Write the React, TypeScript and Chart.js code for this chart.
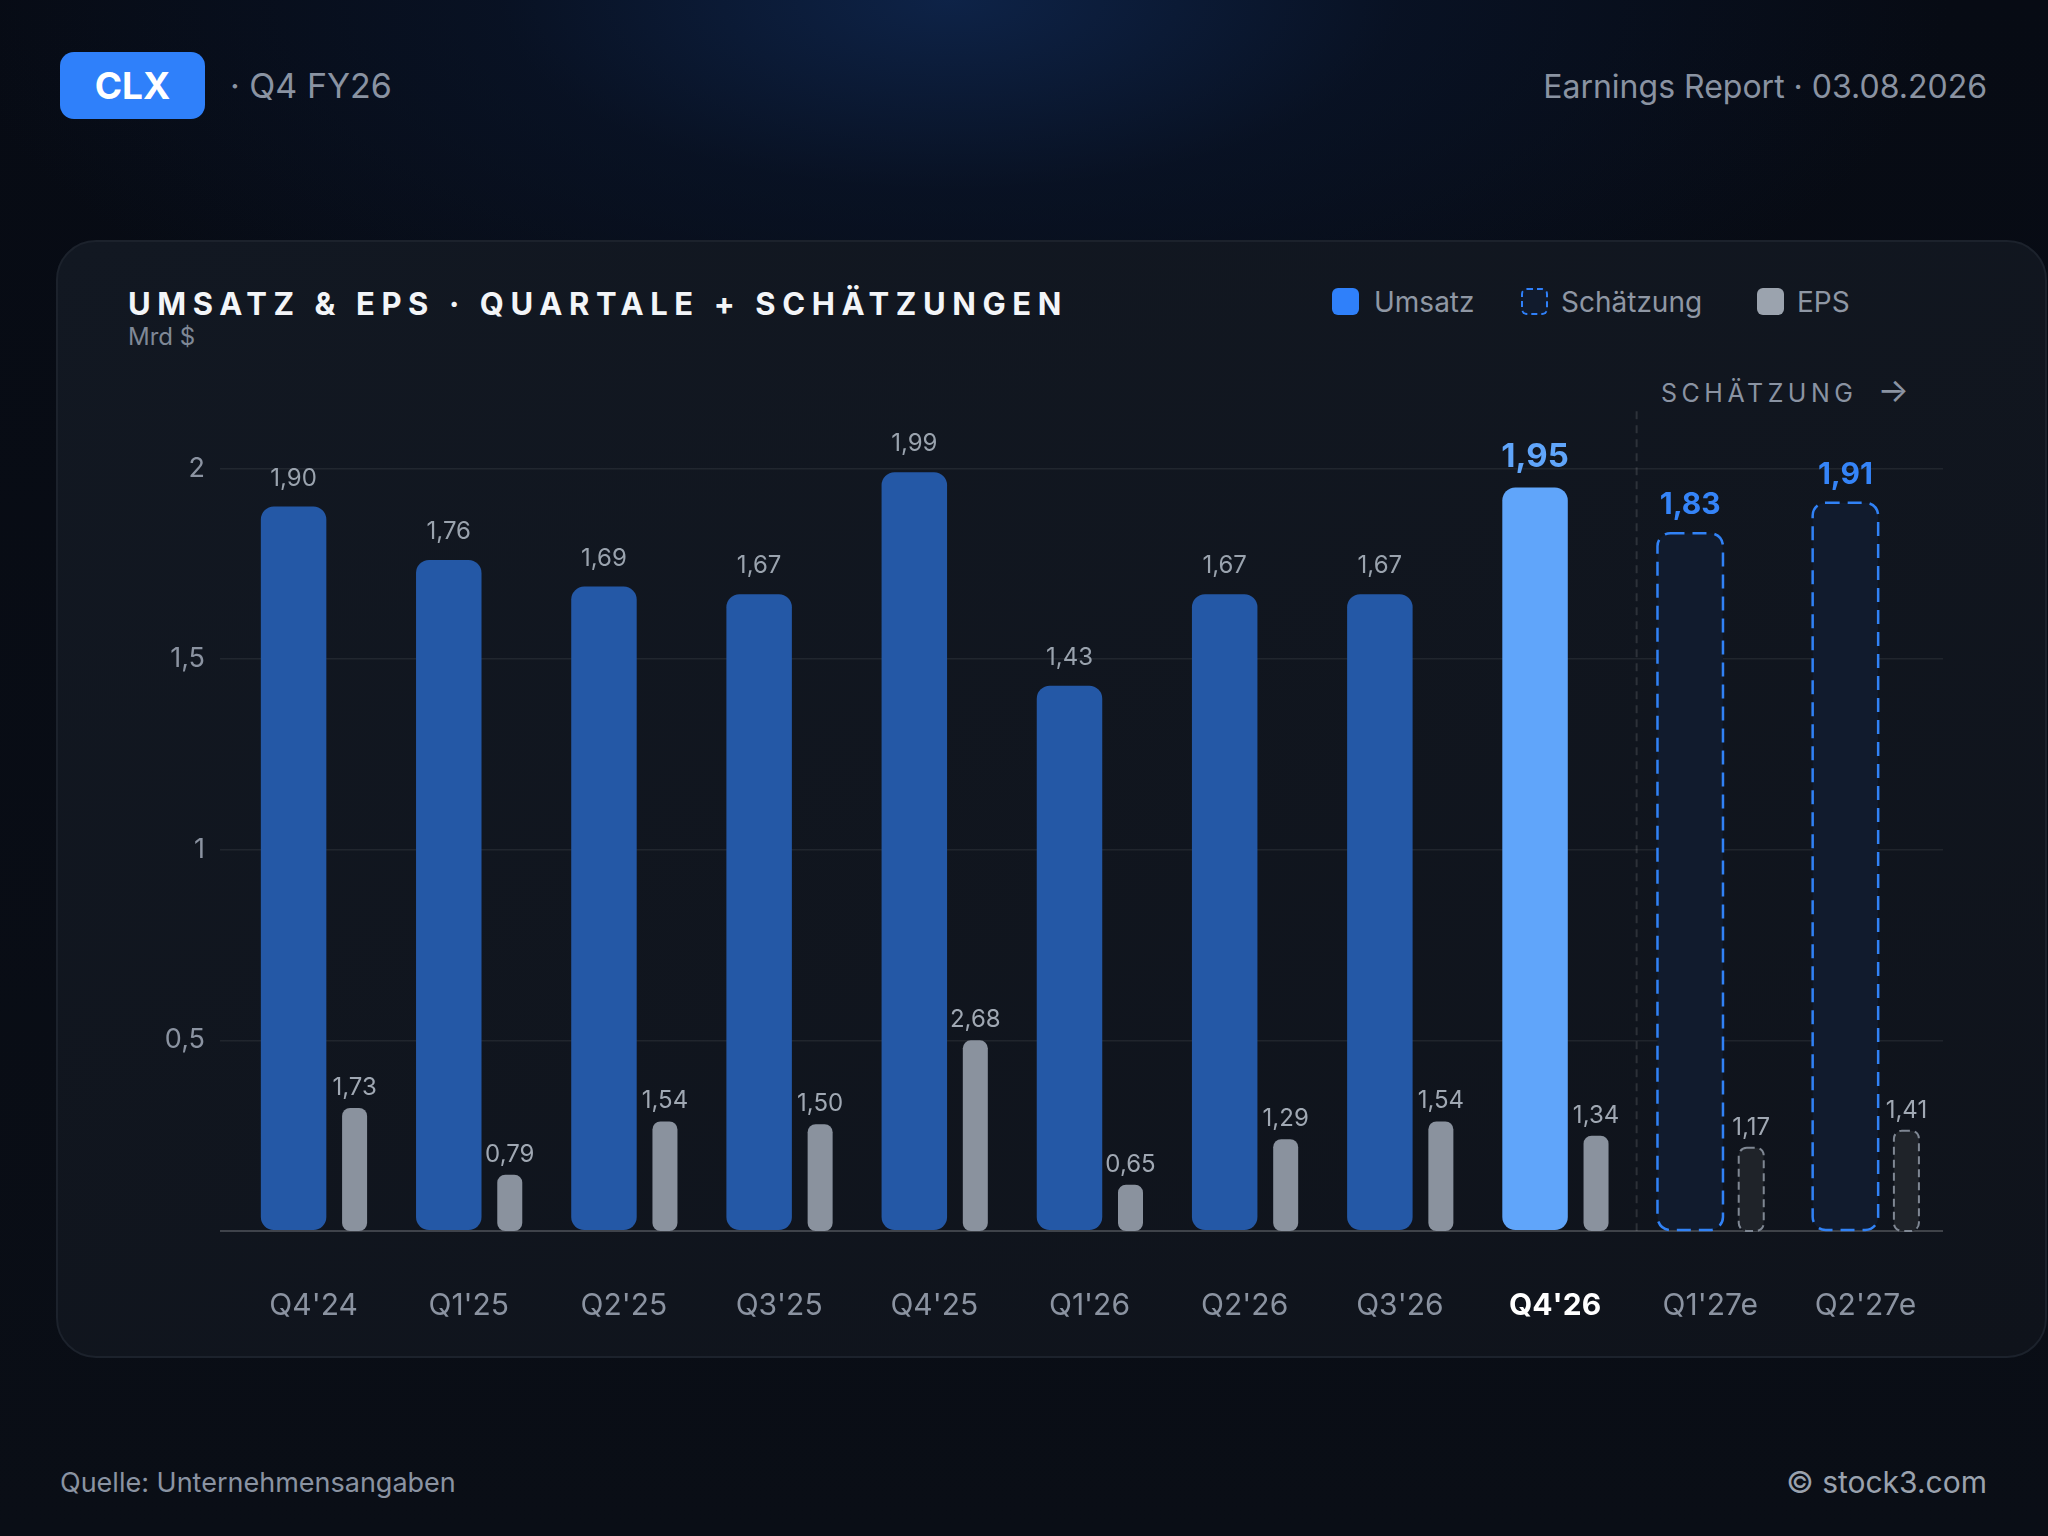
import React, { useEffect, useRef } from "react";
import { Chart, registerables } from "chart.js";

Chart.register(...registerables);

const categories = ["Q4'24", "Q1'25", "Q2'25", "Q3'25", "Q4'25", "Q1'26", "Q2'26", "Q3'26", "Q4'26", "Q1'27e", "Q2'27e"];
const revenue = [1.9, 1.76, 1.69, 1.67, 1.99, 1.43, 1.67, 1.67, 1.95, 1.83, 1.91];
const eps = [1.73, 0.79, 1.54, 1.5, 2.68, 0.65, 1.29, 1.54, 1.34, 1.17, 1.41];
const yTickValues = [0, 0.5, 1, 1.5, 2];
const currentIndex = 8;
const firstEstimateIndex = 9;
const revenueMax = 2.15;
const epsMax = 11.52;

const FONT = "Inter, 'Noto Sans', sans-serif";
const fmt = (v: number) => v.toFixed(2).replace(".", ",");

const overlayPlugin = {
  id: "overlay",
  beforeDatasetsDraw(chart: any) {
    const { ctx, chartArea, scales } = chart;
    const xs = scales.x;
    const sx = (xs.getPixelForValue(currentIndex) + xs.getPixelForValue(firstEstimateIndex)) / 2 + 4;
    ctx.save();
    ctx.strokeStyle = "rgba(255,255,255,0.12)";
    ctx.lineWidth = 2;
    ctx.setLineDash([8, 6]);
    ctx.beginPath();
    ctx.moveTo(sx, chartArea.top);
    ctx.lineTo(sx, chartArea.bottom);
    ctx.stroke();
    ctx.restore();
  },
  afterDatasetsDraw(chart: any) {
    const ctx = chart.ctx;
    const revMeta = chart.getDatasetMeta(0);
    const epsMeta = chart.getDatasetMeta(1);
    revMeta.data.forEach((el: any, i: number) => {
      if (i < firstEstimateIndex) return;
      const { x, y, base, width } = el.getProps(["x", "y", "base", "width"], true);
      ctx.save();
      ctx.setLineDash([14, 8]);
      ctx.lineWidth = 2.5;
      ctx.strokeStyle = "#3182f6";
      ctx.beginPath();
      ctx.roundRect(x - width / 2, y, width, base - y, 13);
      ctx.stroke();
      ctx.restore();
    });
    epsMeta.data.forEach((el: any, i: number) => {
      if (i < firstEstimateIndex) return;
      const { x, y, base, width } = el.getProps(["x", "y", "base", "width"], true);
      ctx.save();
      ctx.setLineDash([8, 5]);
      ctx.lineWidth = 2;
      ctx.strokeStyle = "#7f8793";
      ctx.beginPath();
      ctx.roundRect(x - width / 2, y, width, base - y, 8);
      ctx.stroke();
      ctx.restore();
    });
  },
  afterDraw(chart: any) {
    const ctx = chart.ctx;
    const revMeta = chart.getDatasetMeta(0);
    const epsMeta = chart.getDatasetMeta(1);
    ctx.save();
    ctx.textAlign = "center";
    ctx.textBaseline = "alphabetic";
    revMeta.data.forEach((el: any, i: number) => {
      const { x, y } = el.getProps(["x", "y"], true);
      if (i === currentIndex) {
        ctx.font = `700 33px ${FONT}`;
        ctx.fillStyle = "#60a5fa";
        ctx.fillText(fmt(revenue[i]), x, y - 20);
      } else if (i >= firstEstimateIndex) {
        ctx.font = `700 30px ${FONT}`;
        ctx.fillStyle = "#3584f8";
        ctx.fillText(fmt(revenue[i]), x, y - 19);
      } else {
        ctx.font = `400 24px ${FONT}`;
        ctx.fillStyle = "#9aa3ae";
        ctx.fillText(fmt(revenue[i]), x, y - 21);
      }
    });
    epsMeta.data.forEach((el: any, i: number) => {
      const { x, y } = el.getProps(["x", "y"], true);
      ctx.font = `400 24px ${FONT}`;
      ctx.fillStyle = "#a0a8b3";
      ctx.fillText(fmt(eps[i]), x, y - 13);
    });
    ctx.restore();
  },
};

function ChartCanvas() {
  const ref = useRef<HTMLCanvasElement | null>(null);
  useEffect(() => {
    if (!ref.current) return;
    const chart = new Chart(ref.current, {
      type: "bar",
      data: {
        labels: categories,
        datasets: [
          {
            label: "Umsatz",
            data: revenue,
            yAxisID: "y",
            backgroundColor: revenue.map((_, i) =>
              i >= firstEstimateIndex ? "#111b2d" : i === currentIndex ? "#60a5fa" : "#2458a6"
            ),
            borderWidth: 0,
            borderRadius: 13,
            borderSkipped: false,
            categoryPercentage: 0.5155,
            barPercentage: 1.6375,
          },
          {
            label: "EPS",
            data: eps,
            yAxisID: "y2",
            backgroundColor: eps.map((_, i) => (i >= firstEstimateIndex ? "#1f2329" : "#8a929e")),
            borderWidth: 0,
            borderRadius: 8,
            borderSkipped: false,
            categoryPercentage: 1.0568,
            barPercentage: 0.305,
          },
        ],
      },
      options: {
        responsive: false,
        animation: false,
        maintainAspectRatio: false,
        layout: { padding: { top: 31, right: 57, left: 0, bottom: 0 } },
        plugins: { legend: { display: false }, tooltip: { enabled: false } },
        scales: {
          x: {
            grid: { display: false, drawTicks: false, tickLength: 0 },
            border: { display: false },
            ticks: {
              padding: 57,
              color: (c: any) => (c.index === currentIndex ? "#ffffff" : "#8b93a1"),
              font: (c: any) => ({
                family: FONT,
                size: 30,
                weight: c.index === currentIndex ? "bold" : "normal",
              }),
            },
            afterFit: (s: any) => {
              s.height = 129;
            },
          },
          y: {
            min: 0,
            max: revenueMax,
            z: 1,
            border: { display: false },
            afterBuildTicks: (s: any) => {
              s.ticks = yTickValues.map((v) => ({ value: v }));
            },
            ticks: {
              padding: 15,
              color: "#8b93a1",
              font: { family: FONT, size: 27 },
              callback: (v: any) => (Number(v) === 0 ? "" : String(v).replace(".", ",")),
            },
            grid: {
              color: (c: any) => (c.tick && c.tick.value === 0 ? "rgba(255,255,255,0.2)" : "rgba(255,255,255,0.07)"),
              tickColor: (c: any) => (c.tick && c.tick.value === 0 ? "rgba(255,255,255,0.2)" : "rgba(255,255,255,0.07)"),
              lineWidth: (c: any) => (c.tick && c.tick.value === 0 ? 2 : 1.5),
              tickLength: 16,
            },
            afterFit: (s: any) => {
              s.width = 136;
            },
          },
          y2: {
            display: false,
            min: 0,
            max: epsMax,
          },
        },
      },
      plugins: [overlayPlugin],
    });
    return () => chart.destroy();
  }, []);
  return (
    <canvas
      ref={ref}
      width={1900}
      height={980}
      style={{ position: "absolute", left: 100, top: 380, width: 1900, height: 980 }}
    />
  );
}

function Txt(props: {
  x?: number;
  right?: number;
  cy: number;
  size: number;
  color: string;
  weight?: number;
  ls?: number;
  children: React.ReactNode;
}) {
  const lh = Math.round(props.size * 1.3);
  const style: React.CSSProperties = {
    position: "absolute",
    top: props.cy - lh / 2,
    lineHeight: `${lh}px`,
    fontSize: props.size,
    color: props.color,
    fontWeight: props.weight ?? 400,
    letterSpacing: props.ls ?? 0,
    whiteSpace: "nowrap",
    fontFamily: FONT,
  };
  if (props.right !== undefined) style.right = props.right;
  else style.left = props.x;
  return <div style={style}>{props.children}</div>;
}

export default function App() {
  return (
    <div
      style={{
        position: "absolute",
        left: 0,
        top: 0,
        width: 2048,
        height: 1536,
        overflow: "hidden",
        fontFamily: FONT,
        background:
          "radial-gradient(ellipse 1000px 420px at 950px 0px, rgba(14,36,74,0.95) 0%, rgba(10,24,50,0.5) 45%, rgba(8,12,21,0) 100%), linear-gradient(180deg, #070b14 0%, #0a0e16 100%)",
      }}
    >
      <div
        style={{
          position: "absolute",
          left: 60,
          top: 52,
          width: 145,
          height: 67,
          borderRadius: 14,
          background: "#2f80fa",
          color: "#ffffff",
          fontWeight: 700,
          fontSize: 37,
          lineHeight: "67px",
          textAlign: "center",
        }}
      >
        CLX
      </div>
      <Txt x={230} cy={86} size={34} color="#8a93a2">
        · Q4 FY26
      </Txt>
      <Txt right={61} cy={87} size={32} color="#8a93a2">
        Earnings Report · 03.08.2026
      </Txt>

      <div
        style={{
          position: "absolute",
          left: 56,
          top: 240,
          width: 1991,
          height: 1118,
          boxSizing: "border-box",
          borderRadius: 40,
          border: "2px solid #1c222c",
          background: "linear-gradient(160deg, #121822 0%, #0f131b 100%)",
        }}
      />

      <Txt x={128} cy={304} size={31} color="#f3f5f8" weight={700} ls={6.6}>
        UMSATZ &amp; EPS · QUARTALE + SCHÄTZUNGEN
      </Txt>
      <Txt x={128} cy={336} size={24} color="#7f8896">
        Mrd $
      </Txt>

      <div style={{ position: "absolute", left: 1332, top: 288, width: 27, height: 27, borderRadius: 6, background: "#2f80fa" }} />
      <Txt x={1374} cy={302} size={28} color="#8f97a4">
        Umsatz
      </Txt>
      <div
        style={{
          position: "absolute",
          left: 1521,
          top: 288,
          width: 27,
          height: 27,
          boxSizing: "border-box",
          borderRadius: 6,
          border: "2.5px dashed #2f80fa",
          background: "#111b2d",
        }}
      />
      <Txt x={1561} cy={302} size={28} color="#8f97a4">
        Schätzung
      </Txt>
      <div style={{ position: "absolute", left: 1757, top: 288, width: 27, height: 27, borderRadius: 6, background: "#9ba3ae" }} />
      <Txt x={1797} cy={302} size={28} color="#8f97a4">
        EPS
      </Txt>

      <Txt x={1661} cy={390} size={25} color="#8a93a2" ls={4.5}>
        SCHÄTZUNG<span style={{ marginLeft: 20, letterSpacing: 0, fontSize: 33 }}>→</span>
      </Txt>

      <ChartCanvas />

      <Txt x={60} cy={1482} size={27} color="#8a93a2">
        Quelle: Unternehmensangaben
      </Txt>
      <Txt right={61} cy={1482} size={30} color="#9aa2ae">
        © stock3.com
      </Txt>
    </div>
  );
}
